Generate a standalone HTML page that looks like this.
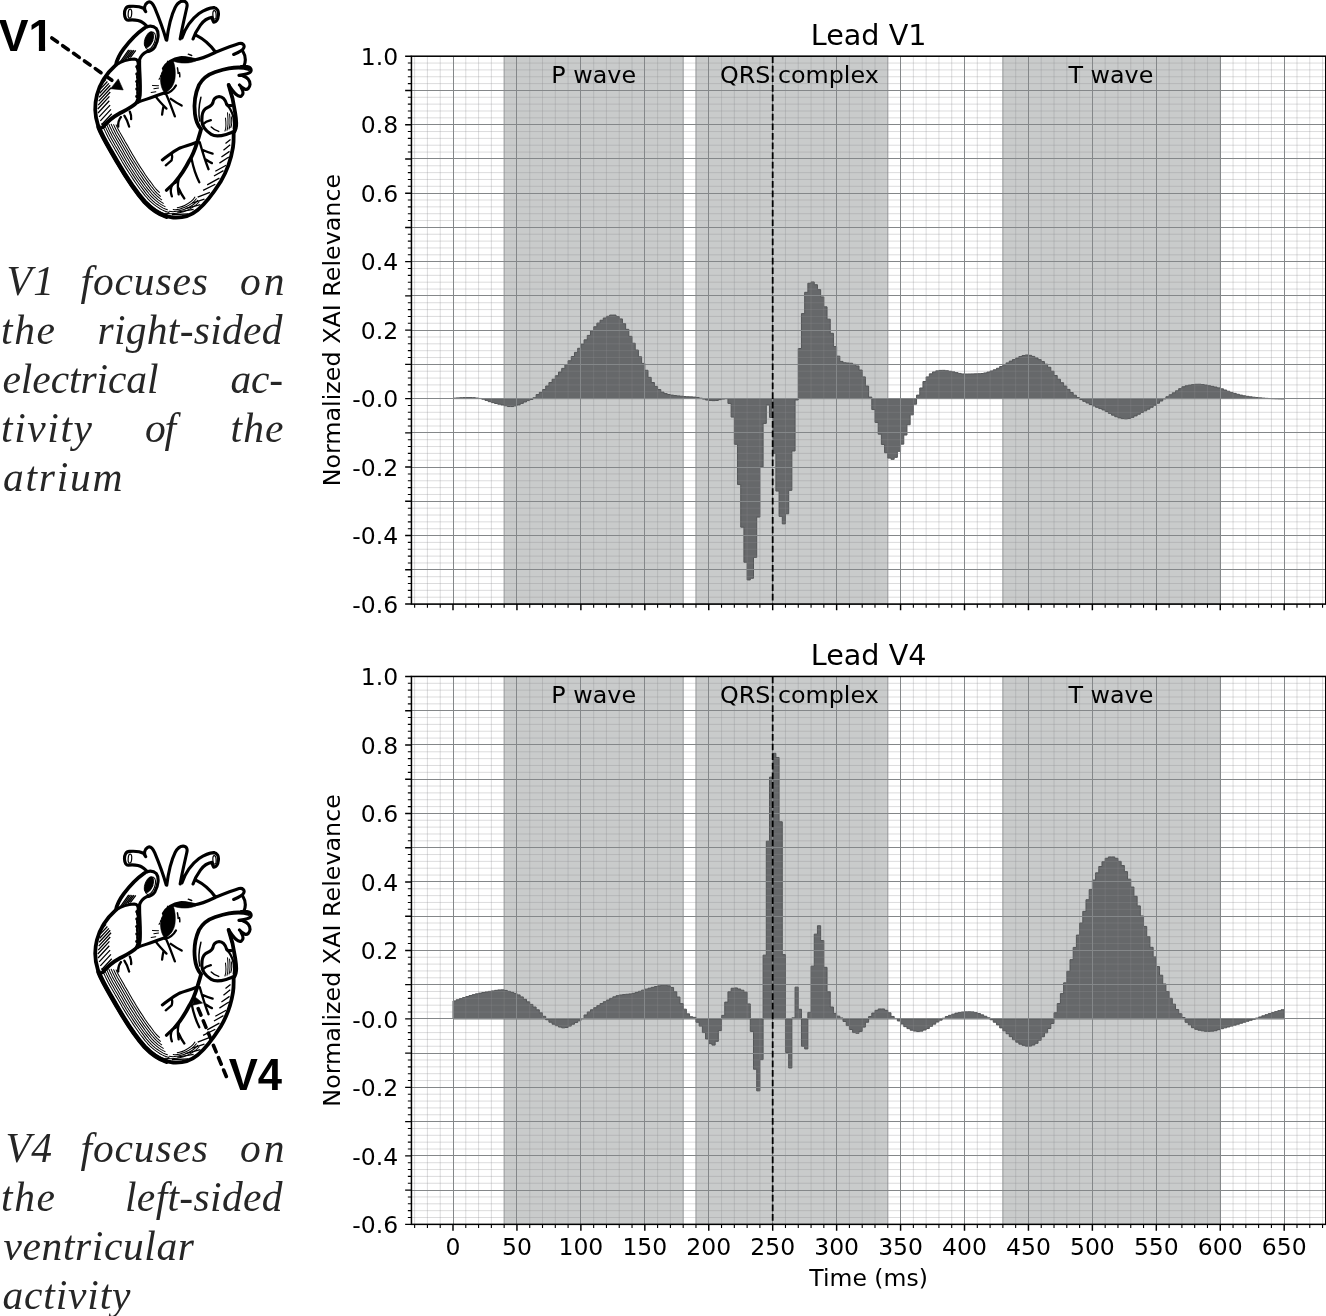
<!DOCTYPE html>
<html lang="en"><head><meta charset="utf-8"><title>ECG lead relevance</title>
<style>html,body{margin:0;padding:0;background:#fff}svg{display:block}</style></head>
<body><svg width="1326" height="1316" viewBox="0 0 1326 1316">
<rect width="1326" height="1316" fill="#fff"/>
<g font-family="'DejaVu Sans','Liberation Sans',sans-serif" fill="#000">
<rect x="504.15" y="56.20" width="179.03" height="547.85" fill="#c9cbcb" stroke="#a4a7a8" stroke-width="1"/>
<rect x="695.97" y="56.20" width="191.82" height="547.85" fill="#c9cbcb" stroke="#a4a7a8" stroke-width="1"/>
<rect x="1002.87" y="56.20" width="217.39" height="547.85" fill="#c9cbcb" stroke="#a4a7a8" stroke-width="1"/>
<path d="M453.00,398.61L453.00,398.13L456.20,398.13L456.20,397.88L459.39,397.88L459.39,397.70L462.59,397.70L462.59,397.59L465.79,397.59L465.79,397.58L468.98,397.58L468.98,397.58L472.18,397.58L472.18,397.65L475.38,397.65L475.38,398.05L478.58,398.05L478.58,398.46L481.77,398.46L481.77,399.18L484.97,399.18L484.97,400.39L488.17,400.39L488.17,401.67L491.36,401.67L491.36,402.65L494.56,402.65L494.56,403.48L497.76,403.48L497.76,404.23L500.95,404.23L500.95,404.96L504.15,404.96L504.15,405.73L507.35,405.73L507.35,406.54L510.54,406.54L510.54,406.57L513.74,406.57L513.74,405.89L516.94,405.89L516.94,404.90L520.14,404.90L520.14,403.39L523.33,403.39L523.33,401.96L526.53,401.96L526.53,400.61L529.73,400.61L529.73,399.47L532.92,399.47L532.92,397.74L536.12,397.74L536.12,394.57L539.32,394.57L539.32,392.34L542.51,392.34L542.51,389.53L545.71,389.53L545.71,385.98L548.91,385.98L548.91,382.55L552.10,382.55L552.10,379.23L555.30,379.23L555.30,375.73L558.50,375.73L558.50,372.03L561.70,372.03L561.70,368.39L564.89,368.39L564.89,364.75L568.09,364.75L568.09,360.74L571.29,360.74L571.29,356.52L574.48,356.52L574.48,352.39L577.68,352.39L577.68,348.29L580.88,348.29L580.88,344.11L584.07,344.11L584.07,339.83L587.27,339.83L587.27,335.41L590.47,335.41L590.47,330.86L593.66,330.86L593.66,326.77L596.86,326.77L596.86,323.09L600.06,323.09L600.06,320.24L603.26,320.24L603.26,317.97L606.45,317.97L606.45,316.34L609.65,316.34L609.65,315.07L612.85,315.07L612.85,315.07L616.04,315.07L616.04,316.48L619.24,316.48L619.24,318.91L622.44,318.91L622.44,323.65L625.63,323.65L625.63,329.34L628.83,329.34L628.83,336.34L632.03,336.34L632.03,343.24L635.22,343.24L635.22,350.03L638.42,350.03L638.42,356.76L641.62,356.76L641.62,363.42L644.82,363.42L644.82,370.29L648.01,370.29L648.01,377.36L651.21,377.36L651.21,382.53L654.41,382.53L654.41,386.38L657.60,386.38L657.60,389.50L660.80,389.50L660.80,392.12L664.00,392.12L664.00,393.61L667.19,393.61L667.19,394.52L670.39,394.52L670.39,395.11L673.59,395.11L673.59,395.56L676.78,395.56L676.78,395.93L679.98,395.93L679.98,396.24L683.18,396.24L683.18,396.50L686.38,396.50L686.38,396.69L689.57,396.69L689.57,396.86L692.77,396.86L692.77,397.08L695.97,397.08L695.97,397.48L699.16,397.48L699.16,398.21L702.36,398.21L702.36,399.06L705.56,399.06L705.56,400.04L708.75,400.04L708.75,400.45L711.95,400.45L711.95,400.63L715.15,400.63L715.15,400.50L718.34,400.50L718.34,399.66L721.54,399.66L721.54,399.02L724.74,399.02L724.74,398.61L727.94,398.61L727.94,403.40L731.13,403.40L731.13,417.10L734.33,417.10L734.33,444.32L737.53,444.32L737.53,484.55L740.72,484.55L740.72,527.18L743.92,527.18L743.92,562.28L747.12,562.28L747.12,579.94L750.31,579.94L750.31,578.27L753.51,578.27L753.51,557.35L756.71,557.35L756.71,517.08L759.90,517.08L759.90,466.92L763.10,466.92L763.10,423.40L766.30,423.40L766.30,404.98L769.50,404.98L769.50,417.44L772.69,417.44L772.69,453.39L775.89,453.39L775.89,491.06L779.09,491.06L779.09,516.33L782.28,516.33L782.28,523.86L785.48,523.86L785.48,513.79L788.68,513.79L788.68,490.37L791.87,490.37L791.87,450.99L795.07,450.99L795.07,399.98L798.27,399.98L798.27,348.51L801.46,348.51L801.46,313.59L804.66,313.59L804.66,292.32L807.86,292.32L807.86,283.22L811.06,283.22L811.06,281.98L814.25,281.98L814.25,284.72L817.45,284.72L817.45,289.58L820.65,289.58L820.65,296.91L823.84,296.91L823.84,306.84L827.04,306.84L827.04,319.17L830.24,319.17L830.24,333.31L833.43,333.31L833.43,346.56L836.63,346.56L836.63,356.15L839.83,356.15L839.83,361.42L843.02,361.42L843.02,362.76L846.22,362.76L846.22,363.00L849.42,363.00L849.42,363.24L852.62,363.24L852.62,364.37L855.81,364.37L855.81,365.97L859.01,365.97L859.01,370.05L862.21,370.05L862.21,376.90L865.40,376.90L865.40,386.01L868.60,386.01L868.60,397.10L871.80,397.10L871.80,409.56L874.99,409.56L874.99,422.44L878.19,422.44L878.19,434.15L881.39,434.15L881.39,444.49L884.58,444.49L884.58,452.71L887.78,452.71L887.78,458.12L890.98,458.12L890.98,459.35L894.18,459.35L894.18,457.36L897.37,457.36L897.37,451.34L900.57,451.34L900.57,444.15L903.77,444.15L903.77,435.04L906.96,435.04L906.96,424.73L910.16,424.73L910.16,414.87L913.36,414.87L913.36,404.22L916.55,404.22L916.55,395.11L919.75,395.11L919.75,387.99L922.95,387.99L922.95,381.49L926.14,381.49L926.14,376.90L929.34,376.90L929.34,373.85L932.54,373.85L932.54,371.90L935.74,371.90L935.74,370.87L938.93,370.87L938.93,370.42L942.13,370.42L942.13,370.35L945.33,370.35L945.33,370.71L948.52,370.71L948.52,371.28L951.72,371.28L951.72,371.86L954.92,371.86L954.92,372.63L958.11,372.63L958.11,373.42L961.31,373.42L961.31,373.94L964.51,373.94L964.51,374.02L967.70,374.02L967.70,373.98L970.90,373.98L970.90,373.92L974.10,373.92L974.10,373.82L977.30,373.82L977.30,373.69L980.49,373.69L980.49,373.50L983.69,373.50L983.69,372.93L986.89,372.93L986.89,372.04L990.08,372.04L990.08,370.94L993.28,370.94L993.28,369.78L996.48,369.78L996.48,368.28L999.67,368.28L999.67,366.53L1002.87,366.53L1002.87,364.78L1006.07,364.78L1006.07,362.90L1009.26,362.90L1009.26,361.10L1012.46,361.10L1012.46,359.58L1015.66,359.58L1015.66,358.05L1018.86,358.05L1018.86,356.59L1022.05,356.59L1022.05,355.48L1025.25,355.48L1025.25,354.99L1028.45,354.99L1028.45,355.34L1031.64,355.34L1031.64,356.41L1034.84,356.41L1034.84,357.93L1038.04,357.93L1038.04,359.64L1041.23,359.64L1041.23,361.58L1044.43,361.58L1044.43,364.18L1047.63,364.18L1047.63,367.25L1050.82,367.25L1050.82,371.24L1054.02,371.24L1054.02,375.52L1057.22,375.52L1057.22,379.24L1060.42,379.24L1060.42,382.71L1063.61,382.71L1063.61,386.06L1066.81,386.06L1066.81,389.40L1070.01,389.40L1070.01,392.53L1073.20,392.53L1073.20,395.22L1076.40,395.22L1076.40,397.57L1079.60,397.57L1079.60,399.57L1082.79,399.57L1082.79,401.35L1085.99,401.35L1085.99,402.98L1089.19,402.98L1089.19,404.51L1092.38,404.51L1092.38,405.96L1095.58,405.96L1095.58,407.29L1098.78,407.29L1098.78,408.58L1101.98,408.58L1101.98,409.93L1105.17,409.93L1105.17,411.54L1108.37,411.54L1108.37,413.36L1111.57,413.36L1111.57,415.16L1114.76,415.16L1114.76,416.74L1117.96,416.74L1117.96,417.89L1121.16,417.89L1121.16,418.58L1124.35,418.58L1124.35,418.87L1127.55,418.87L1127.55,418.43L1130.75,418.43L1130.75,417.37L1133.94,417.37L1133.94,415.91L1137.14,415.91L1137.14,414.21L1140.34,414.21L1140.34,412.48L1143.54,412.48L1143.54,410.87L1146.73,410.87L1146.73,409.15L1149.93,409.15L1149.93,407.27L1153.13,407.27L1153.13,405.30L1156.32,405.30L1156.32,403.24L1159.52,403.24L1159.52,401.02L1162.72,401.02L1162.72,398.82L1165.91,398.82L1165.91,396.76L1169.11,396.76L1169.11,394.76L1172.31,394.76L1172.31,392.82L1175.50,392.82L1175.50,390.84L1178.70,390.84L1178.70,388.65L1181.90,388.65L1181.90,386.77L1185.10,386.77L1185.10,385.76L1188.29,385.76L1188.29,385.11L1191.49,385.11L1191.49,384.60L1194.69,384.60L1194.69,384.29L1197.88,384.29L1197.88,384.24L1201.08,384.24L1201.08,384.53L1204.28,384.53L1204.28,385.06L1207.47,385.06L1207.47,385.70L1210.67,385.70L1210.67,386.33L1213.87,386.33L1213.87,387.05L1217.06,387.05L1217.06,387.88L1220.26,387.88L1220.26,388.83L1223.46,388.83L1223.46,390.00L1226.66,390.00L1226.66,391.24L1229.85,391.24L1229.85,392.40L1233.05,392.40L1233.05,393.37L1236.25,393.37L1236.25,394.28L1239.44,394.28L1239.44,395.10L1242.64,395.10L1242.64,395.78L1245.84,395.78L1245.84,396.33L1249.03,396.33L1249.03,396.80L1252.23,396.80L1252.23,397.21L1255.43,397.21L1255.43,397.56L1258.62,397.56L1258.62,397.86L1261.82,397.86L1261.82,398.12L1265.02,398.12L1265.02,398.35L1268.22,398.35L1268.22,398.54L1271.41,398.54L1271.41,398.67L1274.61,398.67L1274.61,398.78L1277.81,398.78L1277.81,398.87L1281.00,398.87L1281.00,398.93L1284.20,398.93L1284.20,398.61Z" fill="#66686a" stroke="#535557" stroke-width="1" stroke-linejoin="miter"/>
<path d="M414.64,56.20V604.05M427.42,56.20V604.05M440.21,56.20V604.05M465.79,56.20V604.05M478.58,56.20V604.05M491.36,56.20V604.05M504.15,56.20V604.05M529.73,56.20V604.05M542.51,56.20V604.05M555.30,56.20V604.05M568.09,56.20V604.05M593.66,56.20V604.05M606.45,56.20V604.05M619.24,56.20V604.05M632.03,56.20V604.05M657.60,56.20V604.05M670.39,56.20V604.05M683.18,56.20V604.05M695.97,56.20V604.05M721.54,56.20V604.05M734.33,56.20V604.05M747.12,56.20V604.05M759.90,56.20V604.05M785.48,56.20V604.05M798.27,56.20V604.05M811.06,56.20V604.05M823.84,56.20V604.05M849.42,56.20V604.05M862.21,56.20V604.05M874.99,56.20V604.05M887.78,56.20V604.05M913.36,56.20V604.05M926.14,56.20V604.05M938.93,56.20V604.05M951.72,56.20V604.05M977.30,56.20V604.05M990.08,56.20V604.05M1002.87,56.20V604.05M1015.66,56.20V604.05M1041.23,56.20V604.05M1054.02,56.20V604.05M1066.81,56.20V604.05M1079.60,56.20V604.05M1105.17,56.20V604.05M1117.96,56.20V604.05M1130.75,56.20V604.05M1143.54,56.20V604.05M1169.11,56.20V604.05M1181.90,56.20V604.05M1194.69,56.20V604.05M1207.47,56.20V604.05M1233.05,56.20V604.05M1245.84,56.20V604.05M1258.62,56.20V604.05M1271.41,56.20V604.05M1296.99,56.20V604.05M1309.78,56.20V604.05M1322.56,56.20V604.05M411.44,597.20H1325.76M411.44,590.35H1325.76M411.44,583.51H1325.76M411.44,576.66H1325.76M411.44,562.96H1325.76M411.44,556.11H1325.76M411.44,549.26H1325.76M411.44,542.42H1325.76M411.44,528.72H1325.76M411.44,521.87H1325.76M411.44,515.02H1325.76M411.44,508.18H1325.76M411.44,494.48H1325.76M411.44,487.63H1325.76M411.44,480.78H1325.76M411.44,473.94H1325.76M411.44,460.24H1325.76M411.44,453.39H1325.76M411.44,446.54H1325.76M411.44,439.69H1325.76M411.44,426.00H1325.76M411.44,419.15H1325.76M411.44,412.30H1325.76M411.44,405.45H1325.76M411.44,391.76H1325.76M411.44,384.91H1325.76M411.44,378.06H1325.76M411.44,371.21H1325.76M411.44,357.52H1325.76M411.44,350.67H1325.76M411.44,343.82H1325.76M411.44,336.97H1325.76M411.44,323.28H1325.76M411.44,316.43H1325.76M411.44,309.58H1325.76M411.44,302.73H1325.76M411.44,289.04H1325.76M411.44,282.19H1325.76M411.44,275.34H1325.76M411.44,268.49H1325.76M411.44,254.80H1325.76M411.44,247.95H1325.76M411.44,241.10H1325.76M411.44,234.25H1325.76M411.44,220.55H1325.76M411.44,213.71H1325.76M411.44,206.86H1325.76M411.44,200.01H1325.76M411.44,186.31H1325.76M411.44,179.47H1325.76M411.44,172.62H1325.76M411.44,165.77H1325.76M411.44,152.07H1325.76M411.44,145.23H1325.76M411.44,138.38H1325.76M411.44,131.53H1325.76M411.44,117.83H1325.76M411.44,110.99H1325.76M411.44,104.14H1325.76M411.44,97.29H1325.76M411.44,83.59H1325.76M411.44,76.74H1325.76M411.44,69.90H1325.76M411.44,63.05H1325.76" stroke="#8a8c90" stroke-opacity="0.30" stroke-width="1" fill="none"/>
<path d="M453.00,56.20V604.05M516.94,56.20V604.05M580.88,56.20V604.05M644.82,56.20V604.05M708.75,56.20V604.05M772.69,56.20V604.05M836.63,56.20V604.05M900.57,56.20V604.05M964.51,56.20V604.05M1028.45,56.20V604.05M1092.38,56.20V604.05M1156.32,56.20V604.05M1220.26,56.20V604.05M1284.20,56.20V604.05M411.44,604.05H1325.76M411.44,569.81H1325.76M411.44,535.57H1325.76M411.44,501.33H1325.76M411.44,467.09H1325.76M411.44,432.85H1325.76M411.44,398.61H1325.76M411.44,364.37H1325.76M411.44,330.12H1325.76M411.44,295.88H1325.76M411.44,261.64H1325.76M411.44,227.40H1325.76M411.44,193.16H1325.76M411.44,158.92H1325.76M411.44,124.68H1325.76M411.44,90.44H1325.76M411.44,56.20H1325.76" stroke="#848789" stroke-width="1" fill="none" shape-rendering="crispEdges"/>
<line x1="772.69" y1="56.20" x2="772.69" y2="604.05" stroke="#000" stroke-width="1.8" stroke-dasharray="6.7,2.9"/>
<path d="M411.44,604.05h-6.3M411.44,569.81h-6.3M411.44,535.57h-6.3M411.44,501.33h-6.3M411.44,467.09h-6.3M411.44,432.85h-6.3M411.44,398.61h-6.3M411.44,364.37h-6.3M411.44,330.12h-6.3M411.44,295.88h-6.3M411.44,261.64h-6.3M411.44,227.40h-6.3M411.44,193.16h-6.3M411.44,158.92h-6.3M411.44,124.68h-6.3M411.44,90.44h-6.3M411.44,56.20h-6.3M453.00,604.05v6.3M516.94,604.05v6.3M580.88,604.05v6.3M644.82,604.05v6.3M708.75,604.05v6.3M772.69,604.05v6.3M836.63,604.05v6.3M900.57,604.05v6.3M964.51,604.05v6.3M1028.45,604.05v6.3M1092.38,604.05v6.3M1156.32,604.05v6.3M1220.26,604.05v6.3M1284.20,604.05v6.3" stroke="#000" stroke-width="1.45" fill="none"/>
<path d="M411.44,597.20h-3.6M411.44,590.35h-3.6M411.44,583.51h-3.6M411.44,576.66h-3.6M411.44,562.96h-3.6M411.44,556.11h-3.6M411.44,549.26h-3.6M411.44,542.42h-3.6M411.44,528.72h-3.6M411.44,521.87h-3.6M411.44,515.02h-3.6M411.44,508.18h-3.6M411.44,494.48h-3.6M411.44,487.63h-3.6M411.44,480.78h-3.6M411.44,473.94h-3.6M411.44,460.24h-3.6M411.44,453.39h-3.6M411.44,446.54h-3.6M411.44,439.69h-3.6M411.44,426.00h-3.6M411.44,419.15h-3.6M411.44,412.30h-3.6M411.44,405.45h-3.6M411.44,391.76h-3.6M411.44,384.91h-3.6M411.44,378.06h-3.6M411.44,371.21h-3.6M411.44,357.52h-3.6M411.44,350.67h-3.6M411.44,343.82h-3.6M411.44,336.97h-3.6M411.44,323.28h-3.6M411.44,316.43h-3.6M411.44,309.58h-3.6M411.44,302.73h-3.6M411.44,289.04h-3.6M411.44,282.19h-3.6M411.44,275.34h-3.6M411.44,268.49h-3.6M411.44,254.80h-3.6M411.44,247.95h-3.6M411.44,241.10h-3.6M411.44,234.25h-3.6M411.44,220.55h-3.6M411.44,213.71h-3.6M411.44,206.86h-3.6M411.44,200.01h-3.6M411.44,186.31h-3.6M411.44,179.47h-3.6M411.44,172.62h-3.6M411.44,165.77h-3.6M411.44,152.07h-3.6M411.44,145.23h-3.6M411.44,138.38h-3.6M411.44,131.53h-3.6M411.44,117.83h-3.6M411.44,110.99h-3.6M411.44,104.14h-3.6M411.44,97.29h-3.6M411.44,83.59h-3.6M411.44,76.74h-3.6M411.44,69.90h-3.6M411.44,63.05h-3.6M414.64,604.05v3.6M427.42,604.05v3.6M440.21,604.05v3.6M465.79,604.05v3.6M478.58,604.05v3.6M491.36,604.05v3.6M504.15,604.05v3.6M529.73,604.05v3.6M542.51,604.05v3.6M555.30,604.05v3.6M568.09,604.05v3.6M593.66,604.05v3.6M606.45,604.05v3.6M619.24,604.05v3.6M632.03,604.05v3.6M657.60,604.05v3.6M670.39,604.05v3.6M683.18,604.05v3.6M695.97,604.05v3.6M721.54,604.05v3.6M734.33,604.05v3.6M747.12,604.05v3.6M759.90,604.05v3.6M785.48,604.05v3.6M798.27,604.05v3.6M811.06,604.05v3.6M823.84,604.05v3.6M849.42,604.05v3.6M862.21,604.05v3.6M874.99,604.05v3.6M887.78,604.05v3.6M913.36,604.05v3.6M926.14,604.05v3.6M938.93,604.05v3.6M951.72,604.05v3.6M977.30,604.05v3.6M990.08,604.05v3.6M1002.87,604.05v3.6M1015.66,604.05v3.6M1041.23,604.05v3.6M1054.02,604.05v3.6M1066.81,604.05v3.6M1079.60,604.05v3.6M1105.17,604.05v3.6M1117.96,604.05v3.6M1130.75,604.05v3.6M1143.54,604.05v3.6M1169.11,604.05v3.6M1181.90,604.05v3.6M1194.69,604.05v3.6M1207.47,604.05v3.6M1233.05,604.05v3.6M1245.84,604.05v3.6M1258.62,604.05v3.6M1271.41,604.05v3.6M1296.99,604.05v3.6M1309.78,604.05v3.6M1322.56,604.05v3.6" stroke="#000" stroke-width="1.1" fill="none"/>
<rect x="411.44" y="56.20" width="914.32" height="547.85" fill="none" stroke="#000" stroke-width="1.5"/>
<text x="398.2" y="612.80" text-anchor="end" font-size="23.5">-0.6</text>
<text x="398.2" y="544.32" text-anchor="end" font-size="23.5">-0.4</text>
<text x="398.2" y="475.84" text-anchor="end" font-size="23.5">-0.2</text>
<text x="398.2" y="407.36" text-anchor="end" font-size="23.5">-0.0</text>
<text x="398.2" y="338.87" text-anchor="end" font-size="23.5">0.2</text>
<text x="398.2" y="270.39" text-anchor="end" font-size="23.5">0.4</text>
<text x="398.2" y="201.91" text-anchor="end" font-size="23.5">0.6</text>
<text x="398.2" y="133.43" text-anchor="end" font-size="23.5">0.8</text>
<text x="398.2" y="64.95" text-anchor="end" font-size="23.5">1.0</text>
<text transform="translate(339.5,330.12) rotate(-90)" text-anchor="middle" font-size="23.8">Normalized XAI Relevance</text>
<text x="868.60" y="44.80" text-anchor="middle" font-size="28.65">Lead V1</text>
<text x="593.7" y="82.90" text-anchor="middle" font-size="23.8">P wave</text>
<text x="799.4" y="82.90" text-anchor="middle" font-size="23.8">QRS complex</text>
<text x="1110.9" y="82.90" text-anchor="middle" font-size="23.8">T wave</text>
<rect x="504.15" y="676.45" width="179.03" height="547.90" fill="#c9cbcb" stroke="#a4a7a8" stroke-width="1"/>
<rect x="695.97" y="676.45" width="191.82" height="547.90" fill="#c9cbcb" stroke="#a4a7a8" stroke-width="1"/>
<rect x="1002.87" y="676.45" width="217.39" height="547.90" fill="#c9cbcb" stroke="#a4a7a8" stroke-width="1"/>
<path d="M453.00,1018.89L453.00,1000.92L456.20,1000.92L456.20,999.74L459.39,999.74L459.39,998.61L462.59,998.61L462.59,997.55L465.79,997.55L465.79,996.54L468.98,996.54L468.98,995.56L472.18,995.56L472.18,994.64L475.38,994.64L475.38,993.81L478.58,993.81L478.58,993.10L481.77,993.10L481.77,992.48L484.97,992.48L484.97,991.91L488.17,991.91L488.17,991.39L491.36,991.39L491.36,990.89L494.56,990.89L494.56,990.34L497.76,990.34L497.76,989.92L500.95,989.92L500.95,989.85L504.15,989.85L504.15,990.43L507.35,990.43L507.35,991.36L510.54,991.36L510.54,992.30L513.74,992.30L513.74,993.42L516.94,993.42L516.94,994.90L520.14,994.90L520.14,996.92L523.33,996.92L523.33,999.31L526.53,999.31L526.53,1001.87L529.73,1001.87L529.73,1004.40L532.92,1004.40L532.92,1007.03L536.12,1007.03L536.12,1009.82L539.32,1009.82L539.32,1012.83L542.51,1012.83L542.51,1016.32L545.71,1016.32L545.71,1019.72L548.91,1019.72L548.91,1022.21L552.10,1022.21L552.10,1024.20L555.30,1024.20L555.30,1025.70L558.50,1025.70L558.50,1027.05L561.70,1027.05L561.70,1027.84L564.89,1027.84L564.89,1027.53L568.09,1027.53L568.09,1026.09L571.29,1026.09L571.29,1024.21L574.48,1024.21L574.48,1022.54L577.68,1022.54L577.68,1020.83L580.88,1020.83L580.88,1018.62L584.07,1018.62L584.07,1014.96L587.27,1014.96L587.27,1011.98L590.47,1011.98L590.47,1009.79L593.66,1009.79L593.66,1007.69L596.86,1007.69L596.86,1005.59L600.06,1005.59L600.06,1003.58L603.26,1003.58L603.26,1001.73L606.45,1001.73L606.45,1000.04L609.65,1000.04L609.65,998.36L612.85,998.36L612.85,996.83L616.04,996.83L616.04,995.65L619.24,995.65L619.24,994.98L622.44,994.98L622.44,994.59L625.63,994.59L625.63,994.28L628.83,994.28L628.83,993.91L632.03,993.91L632.03,993.30L635.22,993.30L635.22,992.35L638.42,992.35L638.42,991.30L641.62,991.30L641.62,990.14L644.82,990.14L644.82,989.13L648.01,989.13L648.01,988.20L651.21,988.20L651.21,987.34L654.41,987.34L654.41,986.57L657.60,986.57L657.60,985.86L660.80,985.86L660.80,985.20L664.00,985.20L664.00,985.18L667.19,985.18L667.19,985.85L670.39,985.85L670.39,987.44L673.59,987.44L673.59,991.75L676.78,991.75L676.78,997.03L679.98,997.03L679.98,1003.63L683.18,1003.63L683.18,1009.17L686.38,1009.17L686.38,1013.84L689.57,1013.84L689.57,1016.72L692.77,1016.72L692.77,1017.35L695.97,1017.35L695.97,1022.24L699.16,1022.24L699.16,1026.08L702.36,1026.08L702.36,1032.59L705.56,1032.59L705.56,1039.02L708.75,1039.02L708.75,1043.61L711.95,1043.61L711.95,1045.12L715.15,1045.12L715.15,1041.32L718.34,1041.32L718.34,1030.63L721.54,1030.63L721.54,1015.39L724.74,1015.39L724.74,1002.11L727.94,1002.11L727.94,991.73L731.13,991.73L731.13,988.24L734.33,988.24L734.33,987.93L737.53,987.93L737.53,988.99L740.72,988.99L740.72,990.23L743.92,990.23L743.92,992.18L747.12,992.18L747.12,1003.92L750.31,1003.92L750.31,1031.39L753.51,1031.39L753.51,1069.23L756.71,1069.23L756.71,1090.87L759.90,1090.87L759.90,1059.64L763.10,1059.64L763.10,955.13L766.30,955.13L766.30,841.16L769.50,841.16L769.50,777.13L772.69,777.13L772.69,753.29L775.89,753.29L775.89,757.47L779.09,757.47L779.09,821.78L782.28,821.78L782.28,954.61L785.48,954.61L785.48,1052.45L788.68,1052.45L788.68,1067.99L791.87,1067.99L791.87,1017.86L795.07,1017.86L795.07,987.14L798.27,987.14L798.27,1009.30L801.46,1009.30L801.46,1046.28L804.66,1046.28L804.66,1048.95L807.86,1048.95L807.86,1012.38L811.06,1012.38L811.06,966.15L814.25,966.15L814.25,934.13L817.45,934.13L817.45,925.74L820.65,925.74L820.65,940.54L823.84,940.54L823.84,967.32L827.04,967.32L827.04,991.73L830.24,991.73L830.24,1007.00L833.43,1007.00L833.43,1013.41L836.63,1013.41L836.63,1016.15L839.83,1016.15L839.83,1017.96L843.02,1017.96L843.02,1021.49L846.22,1021.49L846.22,1025.60L849.42,1025.60L849.42,1029.50L852.62,1029.50L852.62,1032.59L855.81,1032.59L855.81,1033.27L859.01,1033.27L859.01,1031.39L862.21,1031.39L862.21,1027.11L865.40,1027.11L865.40,1022.24L868.60,1022.24L868.60,1016.49L871.80,1016.49L871.80,1013.07L874.99,1013.07L874.99,1010.33L878.19,1010.33L878.19,1008.96L881.39,1008.96L881.39,1008.96L884.58,1008.96L884.58,1010.33L887.78,1010.33L887.78,1012.72L890.98,1012.72L890.98,1016.44L894.18,1016.44L894.18,1018.48L897.37,1018.48L897.37,1020.97L900.57,1020.97L900.57,1024.06L903.77,1024.06L903.77,1026.64L906.96,1026.64L906.96,1028.62L910.16,1028.62L910.16,1030.19L913.36,1030.19L913.36,1031.08L916.55,1031.08L916.55,1031.55L919.75,1031.55L919.75,1031.14L922.95,1031.14L922.95,1030.01L926.14,1030.01L926.14,1028.55L929.34,1028.55L929.34,1026.31L932.54,1026.31L932.54,1024.14L935.74,1024.14L935.74,1022.04L938.93,1022.04L938.93,1020.14L942.13,1020.14L942.13,1018.24L945.33,1018.24L945.33,1016.48L948.52,1016.48L948.52,1015.32L951.72,1015.32L951.72,1014.20L954.92,1014.20L954.92,1013.11L958.11,1013.11L958.11,1012.44L961.31,1012.44L961.31,1012.01L964.51,1012.01L964.51,1011.85L967.70,1011.85L967.70,1011.78L970.90,1011.78L970.90,1011.89L974.10,1011.89L974.10,1012.62L977.30,1012.62L977.30,1013.57L980.49,1013.57L980.49,1014.86L983.69,1014.86L983.69,1016.27L986.89,1016.27L986.89,1017.82L990.08,1017.82L990.08,1019.76L993.28,1019.76L993.28,1022.23L996.48,1022.23L996.48,1024.92L999.67,1024.92L999.67,1027.89L1002.87,1027.89L1002.87,1030.82L1006.07,1030.82L1006.07,1033.73L1009.26,1033.73L1009.26,1036.70L1012.46,1036.70L1012.46,1039.73L1015.66,1039.73L1015.66,1042.15L1018.86,1042.15L1018.86,1044.13L1022.05,1044.13L1022.05,1045.34L1025.25,1045.34L1025.25,1046.15L1028.45,1046.15L1028.45,1046.11L1031.64,1046.11L1031.64,1045.05L1034.84,1045.05L1034.84,1043.32L1038.04,1043.32L1038.04,1040.23L1041.23,1040.23L1041.23,1036.75L1044.43,1036.75L1044.43,1032.82L1047.63,1032.82L1047.63,1028.48L1050.82,1028.48L1050.82,1023.54L1054.02,1023.54L1054.02,1012.72L1057.22,1012.72L1057.22,1003.58L1060.42,1003.58L1060.42,993.62L1063.61,993.62L1063.61,982.83L1066.81,982.83L1066.81,971.29L1070.01,971.29L1070.01,959.65L1073.20,959.65L1073.20,947.42L1076.40,947.42L1076.40,935.09L1079.60,935.09L1079.60,923.00L1082.79,923.00L1082.79,911.36L1085.99,911.36L1085.99,899.72L1089.19,899.72L1089.19,889.62L1092.38,889.62L1092.38,880.03L1095.58,880.03L1095.58,872.84L1098.78,872.84L1098.78,866.50L1101.98,866.50L1101.98,861.71L1105.17,861.71L1105.17,858.28L1108.37,858.28L1108.37,856.91L1111.57,856.91L1111.57,856.91L1114.76,856.91L1114.76,858.28L1117.96,858.28L1117.96,861.37L1121.16,861.37L1121.16,865.54L1124.35,865.54L1124.35,871.64L1127.55,871.64L1127.55,879.17L1130.75,879.17L1130.75,887.05L1133.94,887.05L1133.94,896.29L1137.14,896.29L1137.14,905.88L1140.34,905.88L1140.34,915.95L1143.54,915.95L1143.54,926.43L1146.73,926.43L1146.73,936.70L1149.93,936.70L1149.93,947.32L1153.13,947.32L1153.13,956.91L1156.32,956.91L1156.32,966.56L1159.52,966.56L1159.52,975.23L1162.72,975.23L1162.72,983.96L1165.91,983.96L1165.91,991.49L1169.11,991.49L1169.11,998.34L1172.31,998.34L1172.31,1004.16L1175.50,1004.16L1175.50,1009.47L1178.70,1009.47L1178.70,1013.75L1181.90,1013.75L1181.90,1017.52L1185.10,1017.52L1185.10,1022.31L1188.29,1022.31L1188.29,1024.85L1191.49,1024.85L1191.49,1027.69L1194.69,1027.69L1194.69,1029.33L1197.88,1029.33L1197.88,1030.21L1201.08,1030.21L1201.08,1030.83L1204.28,1030.83L1204.28,1031.31L1207.47,1031.31L1207.47,1031.36L1210.67,1031.36L1210.67,1031.16L1213.87,1031.16L1213.87,1030.72L1217.06,1030.72L1217.06,1029.67L1220.26,1029.67L1220.26,1028.71L1223.46,1028.71L1223.46,1027.84L1226.66,1027.84L1226.66,1026.97L1229.85,1026.97L1229.85,1026.09L1233.05,1026.09L1233.05,1025.17L1236.25,1025.17L1236.25,1024.22L1239.44,1024.22L1239.44,1023.25L1242.64,1023.25L1242.64,1022.26L1245.84,1022.26L1245.84,1021.26L1249.03,1021.26L1249.03,1020.26L1252.23,1020.26L1252.23,1019.21L1255.43,1019.21L1255.43,1018.09L1258.62,1018.09L1258.62,1016.95L1261.82,1016.95L1261.82,1015.82L1265.02,1015.82L1265.02,1014.70L1268.22,1014.70L1268.22,1013.62L1271.41,1013.62L1271.41,1012.59L1274.61,1012.59L1274.61,1011.61L1277.81,1011.61L1277.81,1010.65L1281.00,1010.65L1281.00,1009.74L1284.20,1009.74L1284.20,1018.89Z" fill="#66686a" stroke="#535557" stroke-width="1" stroke-linejoin="miter"/>
<path d="M414.64,676.45V1224.35M427.42,676.45V1224.35M440.21,676.45V1224.35M465.79,676.45V1224.35M478.58,676.45V1224.35M491.36,676.45V1224.35M504.15,676.45V1224.35M529.73,676.45V1224.35M542.51,676.45V1224.35M555.30,676.45V1224.35M568.09,676.45V1224.35M593.66,676.45V1224.35M606.45,676.45V1224.35M619.24,676.45V1224.35M632.03,676.45V1224.35M657.60,676.45V1224.35M670.39,676.45V1224.35M683.18,676.45V1224.35M695.97,676.45V1224.35M721.54,676.45V1224.35M734.33,676.45V1224.35M747.12,676.45V1224.35M759.90,676.45V1224.35M785.48,676.45V1224.35M798.27,676.45V1224.35M811.06,676.45V1224.35M823.84,676.45V1224.35M849.42,676.45V1224.35M862.21,676.45V1224.35M874.99,676.45V1224.35M887.78,676.45V1224.35M913.36,676.45V1224.35M926.14,676.45V1224.35M938.93,676.45V1224.35M951.72,676.45V1224.35M977.30,676.45V1224.35M990.08,676.45V1224.35M1002.87,676.45V1224.35M1015.66,676.45V1224.35M1041.23,676.45V1224.35M1054.02,676.45V1224.35M1066.81,676.45V1224.35M1079.60,676.45V1224.35M1105.17,676.45V1224.35M1117.96,676.45V1224.35M1130.75,676.45V1224.35M1143.54,676.45V1224.35M1169.11,676.45V1224.35M1181.90,676.45V1224.35M1194.69,676.45V1224.35M1207.47,676.45V1224.35M1233.05,676.45V1224.35M1245.84,676.45V1224.35M1258.62,676.45V1224.35M1271.41,676.45V1224.35M1296.99,676.45V1224.35M1309.78,676.45V1224.35M1322.56,676.45V1224.35M411.44,1217.50H1325.76M411.44,1210.65H1325.76M411.44,1203.80H1325.76M411.44,1196.95H1325.76M411.44,1183.26H1325.76M411.44,1176.41H1325.76M411.44,1169.56H1325.76M411.44,1162.71H1325.76M411.44,1149.01H1325.76M411.44,1142.16H1325.76M411.44,1135.32H1325.76M411.44,1128.47H1325.76M411.44,1114.77H1325.76M411.44,1107.92H1325.76M411.44,1101.07H1325.76M411.44,1094.22H1325.76M411.44,1080.53H1325.76M411.44,1073.68H1325.76M411.44,1066.83H1325.76M411.44,1059.98H1325.76M411.44,1046.28H1325.76M411.44,1039.43H1325.76M411.44,1032.59H1325.76M411.44,1025.74H1325.76M411.44,1012.04H1325.76M411.44,1005.19H1325.76M411.44,998.34H1325.76M411.44,991.49H1325.76M411.44,977.79H1325.76M411.44,970.95H1325.76M411.44,964.10H1325.76M411.44,957.25H1325.76M411.44,943.55H1325.76M411.44,936.70H1325.76M411.44,929.85H1325.76M411.44,923.00H1325.76M411.44,909.31H1325.76M411.44,902.46H1325.76M411.44,895.61H1325.76M411.44,888.76H1325.76M411.44,875.06H1325.76M411.44,868.22H1325.76M411.44,861.37H1325.76M411.44,854.52H1325.76M411.44,840.82H1325.76M411.44,833.97H1325.76M411.44,827.12H1325.76M411.44,820.27H1325.76M411.44,806.58H1325.76M411.44,799.73H1325.76M411.44,792.88H1325.76M411.44,786.03H1325.76M411.44,772.33H1325.76M411.44,765.48H1325.76M411.44,758.63H1325.76M411.44,751.79H1325.76M411.44,738.09H1325.76M411.44,731.24H1325.76M411.44,724.39H1325.76M411.44,717.54H1325.76M411.44,703.85H1325.76M411.44,697.00H1325.76M411.44,690.15H1325.76M411.44,683.30H1325.76" stroke="#8a8c90" stroke-opacity="0.30" stroke-width="1" fill="none"/>
<path d="M453.00,676.45V1224.35M516.94,676.45V1224.35M580.88,676.45V1224.35M644.82,676.45V1224.35M708.75,676.45V1224.35M772.69,676.45V1224.35M836.63,676.45V1224.35M900.57,676.45V1224.35M964.51,676.45V1224.35M1028.45,676.45V1224.35M1092.38,676.45V1224.35M1156.32,676.45V1224.35M1220.26,676.45V1224.35M1284.20,676.45V1224.35M411.44,1224.35H1325.76M411.44,1190.11H1325.76M411.44,1155.86H1325.76M411.44,1121.62H1325.76M411.44,1087.38H1325.76M411.44,1053.13H1325.76M411.44,1018.89H1325.76M411.44,984.64H1325.76M411.44,950.40H1325.76M411.44,916.16H1325.76M411.44,881.91H1325.76M411.44,847.67H1325.76M411.44,813.42H1325.76M411.44,779.18H1325.76M411.44,744.94H1325.76M411.44,710.69H1325.76M411.44,676.45H1325.76" stroke="#848789" stroke-width="1" fill="none" shape-rendering="crispEdges"/>
<line x1="772.69" y1="676.45" x2="772.69" y2="1224.35" stroke="#000" stroke-width="1.8" stroke-dasharray="6.7,2.9"/>
<path d="M411.44,1224.35h-6.3M411.44,1190.11h-6.3M411.44,1155.86h-6.3M411.44,1121.62h-6.3M411.44,1087.38h-6.3M411.44,1053.13h-6.3M411.44,1018.89h-6.3M411.44,984.64h-6.3M411.44,950.40h-6.3M411.44,916.16h-6.3M411.44,881.91h-6.3M411.44,847.67h-6.3M411.44,813.42h-6.3M411.44,779.18h-6.3M411.44,744.94h-6.3M411.44,710.69h-6.3M411.44,676.45h-6.3M453.00,1224.35v6.3M516.94,1224.35v6.3M580.88,1224.35v6.3M644.82,1224.35v6.3M708.75,1224.35v6.3M772.69,1224.35v6.3M836.63,1224.35v6.3M900.57,1224.35v6.3M964.51,1224.35v6.3M1028.45,1224.35v6.3M1092.38,1224.35v6.3M1156.32,1224.35v6.3M1220.26,1224.35v6.3M1284.20,1224.35v6.3" stroke="#000" stroke-width="1.45" fill="none"/>
<path d="M411.44,1217.50h-3.6M411.44,1210.65h-3.6M411.44,1203.80h-3.6M411.44,1196.95h-3.6M411.44,1183.26h-3.6M411.44,1176.41h-3.6M411.44,1169.56h-3.6M411.44,1162.71h-3.6M411.44,1149.01h-3.6M411.44,1142.16h-3.6M411.44,1135.32h-3.6M411.44,1128.47h-3.6M411.44,1114.77h-3.6M411.44,1107.92h-3.6M411.44,1101.07h-3.6M411.44,1094.22h-3.6M411.44,1080.53h-3.6M411.44,1073.68h-3.6M411.44,1066.83h-3.6M411.44,1059.98h-3.6M411.44,1046.28h-3.6M411.44,1039.43h-3.6M411.44,1032.59h-3.6M411.44,1025.74h-3.6M411.44,1012.04h-3.6M411.44,1005.19h-3.6M411.44,998.34h-3.6M411.44,991.49h-3.6M411.44,977.79h-3.6M411.44,970.95h-3.6M411.44,964.10h-3.6M411.44,957.25h-3.6M411.44,943.55h-3.6M411.44,936.70h-3.6M411.44,929.85h-3.6M411.44,923.00h-3.6M411.44,909.31h-3.6M411.44,902.46h-3.6M411.44,895.61h-3.6M411.44,888.76h-3.6M411.44,875.06h-3.6M411.44,868.22h-3.6M411.44,861.37h-3.6M411.44,854.52h-3.6M411.44,840.82h-3.6M411.44,833.97h-3.6M411.44,827.12h-3.6M411.44,820.27h-3.6M411.44,806.58h-3.6M411.44,799.73h-3.6M411.44,792.88h-3.6M411.44,786.03h-3.6M411.44,772.33h-3.6M411.44,765.48h-3.6M411.44,758.63h-3.6M411.44,751.79h-3.6M411.44,738.09h-3.6M411.44,731.24h-3.6M411.44,724.39h-3.6M411.44,717.54h-3.6M411.44,703.85h-3.6M411.44,697.00h-3.6M411.44,690.15h-3.6M411.44,683.30h-3.6M414.64,1224.35v3.6M427.42,1224.35v3.6M440.21,1224.35v3.6M465.79,1224.35v3.6M478.58,1224.35v3.6M491.36,1224.35v3.6M504.15,1224.35v3.6M529.73,1224.35v3.6M542.51,1224.35v3.6M555.30,1224.35v3.6M568.09,1224.35v3.6M593.66,1224.35v3.6M606.45,1224.35v3.6M619.24,1224.35v3.6M632.03,1224.35v3.6M657.60,1224.35v3.6M670.39,1224.35v3.6M683.18,1224.35v3.6M695.97,1224.35v3.6M721.54,1224.35v3.6M734.33,1224.35v3.6M747.12,1224.35v3.6M759.90,1224.35v3.6M785.48,1224.35v3.6M798.27,1224.35v3.6M811.06,1224.35v3.6M823.84,1224.35v3.6M849.42,1224.35v3.6M862.21,1224.35v3.6M874.99,1224.35v3.6M887.78,1224.35v3.6M913.36,1224.35v3.6M926.14,1224.35v3.6M938.93,1224.35v3.6M951.72,1224.35v3.6M977.30,1224.35v3.6M990.08,1224.35v3.6M1002.87,1224.35v3.6M1015.66,1224.35v3.6M1041.23,1224.35v3.6M1054.02,1224.35v3.6M1066.81,1224.35v3.6M1079.60,1224.35v3.6M1105.17,1224.35v3.6M1117.96,1224.35v3.6M1130.75,1224.35v3.6M1143.54,1224.35v3.6M1169.11,1224.35v3.6M1181.90,1224.35v3.6M1194.69,1224.35v3.6M1207.47,1224.35v3.6M1233.05,1224.35v3.6M1245.84,1224.35v3.6M1258.62,1224.35v3.6M1271.41,1224.35v3.6M1296.99,1224.35v3.6M1309.78,1224.35v3.6M1322.56,1224.35v3.6" stroke="#000" stroke-width="1.1" fill="none"/>
<rect x="411.44" y="676.45" width="914.32" height="547.90" fill="none" stroke="#000" stroke-width="1.5"/>
<text x="398.2" y="1233.10" text-anchor="end" font-size="23.5">-0.6</text>
<text x="398.2" y="1164.61" text-anchor="end" font-size="23.5">-0.4</text>
<text x="398.2" y="1096.12" text-anchor="end" font-size="23.5">-0.2</text>
<text x="398.2" y="1027.64" text-anchor="end" font-size="23.5">-0.0</text>
<text x="398.2" y="959.15" text-anchor="end" font-size="23.5">0.2</text>
<text x="398.2" y="890.66" text-anchor="end" font-size="23.5">0.4</text>
<text x="398.2" y="822.17" text-anchor="end" font-size="23.5">0.6</text>
<text x="398.2" y="753.69" text-anchor="end" font-size="23.5">0.8</text>
<text x="398.2" y="685.20" text-anchor="end" font-size="23.5">1.0</text>
<text transform="translate(339.5,950.40) rotate(-90)" text-anchor="middle" font-size="23.8">Normalized XAI Relevance</text>
<text x="868.60" y="665.05" text-anchor="middle" font-size="28.65">Lead V4</text>
<text x="593.7" y="703.15" text-anchor="middle" font-size="23.8">P wave</text>
<text x="799.4" y="703.15" text-anchor="middle" font-size="23.8">QRS complex</text>
<text x="1110.9" y="703.15" text-anchor="middle" font-size="23.8">T wave</text>
<text x="453.00" y="1255.3" text-anchor="middle" font-size="23.5">0</text>
<text x="516.94" y="1255.3" text-anchor="middle" font-size="23.5">50</text>
<text x="580.88" y="1255.3" text-anchor="middle" font-size="23.5">100</text>
<text x="644.82" y="1255.3" text-anchor="middle" font-size="23.5">150</text>
<text x="708.75" y="1255.3" text-anchor="middle" font-size="23.5">200</text>
<text x="772.69" y="1255.3" text-anchor="middle" font-size="23.5">250</text>
<text x="836.63" y="1255.3" text-anchor="middle" font-size="23.5">300</text>
<text x="900.57" y="1255.3" text-anchor="middle" font-size="23.5">350</text>
<text x="964.51" y="1255.3" text-anchor="middle" font-size="23.5">400</text>
<text x="1028.45" y="1255.3" text-anchor="middle" font-size="23.5">450</text>
<text x="1092.38" y="1255.3" text-anchor="middle" font-size="23.5">500</text>
<text x="1156.32" y="1255.3" text-anchor="middle" font-size="23.5">550</text>
<text x="1220.26" y="1255.3" text-anchor="middle" font-size="23.5">600</text>
<text x="1284.20" y="1255.3" text-anchor="middle" font-size="23.5">650</text>
<text x="868.60" y="1285.9" text-anchor="middle" font-size="23.5">Time (ms)</text>
</g>
<defs><g id="heart"><g fill="none" stroke="#000" stroke-linecap="round" stroke-linejoin="round">
<path stroke-width="7.5" d="M1050,830 C1056,895 1054,940 1046,960 M1065,840 C1071,895 1069,930 1061,950 M1078,860 C1084,900 1082,920 1074,940 M1035,870 C1041,917 1039,945 1031,965 M125,910 L132,929 L140,948 L149,968 L159,989 L170,1011 L182,1033 L195,1056 L209,1079 L223,1104 L238,1129 L253,1155 L268,1181 L275,1194 L291,1220 L307,1246 L324,1273 L341,1299 L358,1325 L375,1350 L392,1374 L409,1398 L426,1419 L441,1439 L457,1457 L463,1465 L477,1479 L492,1493 L507,1506 L522,1517 L538,1528 L553,1538 L569,1546 L586,1554 L602,1560 L619,1565 M140,905 L146,924 L154,942 L163,962 L173,982 L184,1003 L196,1025 L209,1048 L222,1072 L237,1096 L251,1121 L266,1147 L281,1174 L289,1186 L304,1212 L320,1238 L337,1264 L354,1290 L371,1316 L388,1341 L405,1365 L422,1388 L438,1410 L453,1430 L468,1447 L474,1454 L488,1468 L502,1481 L517,1494 L531,1505 L546,1515 L561,1524 L576,1533 L592,1540 L607,1545 M158,910 L164,927 L172,945 L181,965 L192,985 L203,1007 L216,1029 L229,1052 L243,1076 L257,1101 L272,1126 L287,1153 L294,1165 L309,1191 L325,1217 L341,1243 L358,1269 L375,1295 L392,1320 L409,1344 L426,1368 L442,1390 L458,1410 L473,1429 L487,1445 L492,1450 L506,1464 L520,1476 L534,1487 L548,1498 L562,1507 L576,1515 L590,1522 M175,913 L182,930 L191,949 L200,968 L211,989 L223,1010 L236,1033 L249,1056 L263,1080 L278,1105 L293,1132 L308,1158 L315,1170 L330,1196 L346,1221 L363,1247 L379,1273 L396,1299 L413,1323 L430,1347 L446,1370 L462,1391 L478,1410 L492,1427 L496,1432 L510,1446 L523,1458 L536,1470 L550,1480 L563,1489 L577,1498 M193,915 L201,933 L209,951 L219,971 L230,992 L243,1014 L256,1036 L270,1060 L284,1085 L299,1111 L314,1137 L321,1149 L336,1175 L352,1200 L368,1226 L384,1252 L401,1278 L418,1302 L434,1327 L451,1350 L467,1371 L482,1391 L497,1409 L511,1425 L514,1429 L527,1441 L540,1452 L553,1463 L565,1472 M211,918 L219,935 L228,954 L238,974 L250,995 L263,1017 L276,1040 L290,1065 L305,1090 L320,1116 L335,1143 L342,1154 L357,1180 L373,1205 L389,1231 L405,1256 L422,1281 L439,1306 L455,1329 L471,1351 L487,1372 L502,1390 L515,1407 L519,1411 L531,1424 L544,1435 L556,1446 M229,920 L237,938 L247,957 L258,977 L270,998 L283,1021 L296,1045 L311,1069 L326,1095 L341,1122 L348,1134 L363,1159 L378,1184 L394,1210 L410,1235 L427,1260 L443,1285 L460,1309 L476,1331 L492,1352 L506,1372 L520,1389 L534,1404 L536,1407 L548,1418 M590,1571 C680,1584 780,1554 840,1488 M620,1557 C680,1568 780,1538 830,1476 M650,1543 C680,1552 780,1522 820,1464 M680,1529 C680,1536 780,1506 810,1452 M497,629 L542,631 M507,654 L542,649 M487,681 L522,676 M545,585 L550,575 M555,564 L560,554 M565,543 L570,533 M575,522 L580,512 M585,501 L590,491 M595,480 L600,470 M605,459 L610,449"/>
<path stroke-width="9.5" stroke-linecap="butt" d="M118,600 L145,571 M115,629 L155,585 M111,658 L165,600 M108,687 L176,614 M104,716 L186,628 M101,745 L192,646 M97,774 L186,678 M94,803 L180,710 M96,832 L179,742 M104,861 L185,774 M113,890 L191,806 M122,919 L197,838 M130,948 L203,870 M262,452 L322,367 M280,445 L335,368 M298,438 L348,369 M316,431 L361,370 M334,424 L374,371 M1020,1107 L1070,1067 M1005,1157 L1065,1115 M990,1202 L1060,1157 M960,1262 L1040,1217 M950,1297 L1020,1257 M900,1362 L990,1312 M870,1402 L960,1357 M830,1452 L920,1417 M790,1497 L880,1467 M740,1537 L850,1507 M680,1562 L800,1542 M640,1582 L760,1575 M1035,1057 L1072,1027"/>
<path stroke-width="11" d="M1038,505 L1118,492 M761,399 L786,409 M681,500 C684,515 686,530 686,542 M696,535 C698,545 699,555 698,566 M854,716 C838,780 832,830 846,892 M930,935 C945,950 965,962 985,968"/>
<path stroke-width="17" d="M392,468 C384,490 378,500 388,520 C396,540 378,555 386,580 C394,600 376,615 386,640 C394,660 378,675 388,700 C392,720 384,735 378,750 M590,692 C620,684 652,662 670,630 M1043,772 C1065,790 1085,830 1093,862 C1100,890 1100,920 1096,950 M868,917 C885,898 905,890 927,885 M520,710 C545,745 575,775 600,800 M578,785 C572,810 570,830 568,845 M596,690 C620,740 640,800 662,857 M632,728 C660,748 688,765 712,778 M330,822 C338,840 342,860 340,877 M290,852 C305,875 318,905 325,932 M265,862 C250,880 243,900 245,932 M640,1137 C645,1155 642,1170 638,1182 L595,1218 M785,1170 C795,1220 815,1290 842,1342 M845,1047 C860,1100 880,1170 910,1247 M868,1105 C890,1115 915,1125 940,1132 M890,1175 C905,1185 920,1195 935,1202 M690,1322 C683,1350 682,1390 690,1432 M690,1387 C700,1410 715,1440 732,1462 M640,1367 C630,1390 630,1420 640,1447"/>
<path stroke-width="23" d="M330,47 C370,44 410,50 432,62 L447,86 M447,86 C434,60 436,32 462,17 C486,6 502,30 514,58 C546,135 578,222 598,293 M318,148 C360,144 398,148 423,165 C440,176 450,188 462,197 M602,296 C612,220 632,120 664,55 C680,25 700,8 722,8 C748,8 757,30 750,55 C738,110 714,210 701,287 M714,280 C734,220 780,145 840,100 C880,72 920,58 950,56 M935,128 C905,132 875,150 850,185 C825,220 808,250 796,287 M814,257 C860,280 920,325 962,385 M330,47 C300,45 290,75 291,104 C292,135 305,150 320,148 M948,56 C975,58 986,85 983,110 C980,145 966,165 948,163 C940,150 938,140 935,128 M436,208 C460,190 500,185 525,210 C548,240 540,300 515,345 C500,368 478,378 455,380 C430,392 408,415 400,445 M228,478 C260,458 320,437 362,435 C380,436 392,448 392,468 M392,752 C440,735 500,715 540,700 C560,693 575,688 592,682 M578,505 C600,465 650,430 700,425 C750,420 780,442 812,440 C870,432 920,405 962,385 C1030,358 1090,335 1135,321 C1162,314 1178,332 1170,352 C1165,368 1135,385 1095,401 M1160,372 C1180,405 1188,450 1170,488 M1150,490 C1200,482 1224,495 1224,518 C1222,540 1185,548 1134,555 M1165,560 C1195,570 1216,592 1216,622 C1213,650 1195,662 1180,657 C1165,652 1150,640 1138,626 M1150,645 C1165,670 1170,695 1152,708 C1128,720 1100,690 1058,626 M1075,778 C1060,780 1050,778 1043,767 C1035,740 1015,712 988,711 C960,713 945,735 942,757 C935,780 905,790 885,803 C866,818 860,850 861,890 C862,930 890,965 930,990 C960,1008 1000,1002 1040,990 C1065,982 1085,975 1097,968 M665,1340 C640,1365 615,1385 600,1402 M818,1050 C770,1070 720,1080 690,1095 C650,1115 610,1150 570,1178"/>
<path stroke-width="28" d="M228,478 C170,530 110,610 88,700 C70,770 72,850 95,920 C120,1000 180,1090 240,1197 C300,1300 380,1420 440,1487 C500,1550 570,1595 650,1603 C730,1608 790,1580 830,1547 C900,1490 960,1400 1000,1337 C1040,1270 1075,1180 1090,1087 C1097,1040 1095,1010 1095,975 M436,208 C390,240 330,300 285,360 C255,400 235,440 228,478 M1205,508 C1170,496 1120,494 1060,503 C1020,510 990,520 960,530 C900,550 865,580 840,625 C815,680 800,760 810,840 C816,890 835,930 855,952 M1058,626 C1080,690 1096,760 1106,830 C1114,880 1120,915 1110,945 C1106,960 1100,970 1095,980 M400,445 C397,520 410,600 404,700 C402,720 398,735 390,750 M388,750 C350,790 300,812 250,838 C215,857 170,890 130,937 M855,952 C845,990 835,1020 828,1045 C810,1100 790,1150 770,1180 C740,1240 700,1300 665,1340"/>
<path stroke-width="34" d="M100,935 C125,1005 180,1090 240,1197 C300,1300 380,1420 440,1487 C490,1540 540,1575 600,1595"/>
<path fill="#000" stroke-width="4" d="M1052,618 C1075,660 1090,720 1100,775 C1080,740 1068,690 1052,618 Z M650,450 C600,465 552,530 556,590 C558,640 575,675 590,684 C625,670 655,630 663,580 C670,530 662,480 650,450 Z M640,447 C690,412 770,412 835,440 C780,472 700,472 640,447 Z"/>
<ellipse cx="331" cy="100" rx="13" ry="33" transform="rotate(4 331 100)" stroke-width="9"/>
<ellipse cx="954" cy="110" rx="12" ry="31" transform="rotate(-3 954 110)" stroke-width="9"/>
<ellipse cx="481" cy="300" rx="33" ry="67" transform="rotate(20 481 300)" stroke-width="8"/>
<ellipse cx="471" cy="292" rx="29" ry="61" transform="rotate(20 471 292)" fill="#000" stroke-width="6"/>
<circle cx="383" cy="492" r="13" fill="#000" stroke="none"/>
<circle cx="383" cy="545" r="13" fill="#000" stroke="none"/>
<circle cx="383" cy="600" r="13" fill="#000" stroke="none"/>
<circle cx="383" cy="655" r="13" fill="#000" stroke="none"/>
<circle cx="383" cy="710" r="13" fill="#000" stroke="none"/>
</g></g></defs>
<use href="#heart" transform="translate(85,0) scale(0.135746)"/>
<use href="#heart" transform="translate(85,845) scale(0.135746)"/>
<g font-family="'Liberation Sans',Arial,sans-serif" font-weight="700" font-size="44.6" fill="#000">
<clipPath id="nofoot"><path clip-rule="evenodd" d="M-5,0H60V60H-5Z M29,45.7H38.9V52H29Z M45.1,45.7H54V52H45.1Z"/></clipPath>
<text x="-1.3" y="51" clip-path="url(#nofoot)">V1</text>
<text x="228.8" y="1090.3" font-size="43.6">V4</text>
</g>
<g stroke="#000" stroke-width="3.6" stroke-dasharray="7,6.3" stroke-linecap="round" fill="none">
<path d="M51.8,38 L112,80.4"/>
<path d="M226.3,1076.5 L198.2,1008.5"/>
</g>
<path d="M123.2,89.9 L118.3,78.9 L110.6,88.7 Z" fill="#000" stroke="#000" stroke-width="0.6" stroke-linejoin="round"/>
<path d="M194.4,996.4 L192.8,1005.2 L202.6,1003 Z" fill="#000" stroke="#000" stroke-width="0.6" stroke-linejoin="round"/>
<g font-family="'Liberation Serif','DejaVu Serif',serif" font-style="italic" font-size="41.5" fill="#262626">
<text x="6.5" y="295.2" textLength="47.5" lengthAdjust="spacing">V1</text>
<text x="80.5" y="295.2" textLength="127.5" lengthAdjust="spacing">focuses</text>
<text x="240.0" y="295.2" textLength="44.5" lengthAdjust="spacing">on</text>
<text x="1.0" y="344.2" textLength="54.0" lengthAdjust="spacing">the</text>
<text x="97.5" y="344.2" textLength="185.0" lengthAdjust="spacing">right-sided</text>
<text x="2.5" y="393.2" textLength="156.0" lengthAdjust="spacing">electrical</text>
<text x="230.5" y="393.2" textLength="52.5" lengthAdjust="spacing">ac-</text>
<text x="1.0" y="442.2" textLength="91.0" lengthAdjust="spacing">tivity</text>
<text x="145.0" y="442.2" textLength="31.0" lengthAdjust="spacing">of</text>
<text x="230.5" y="442.2" textLength="53.0" lengthAdjust="spacing">the</text>
<text x="3.0" y="491.2" textLength="119.5" lengthAdjust="spacing">atrium</text>
<text x="5.5" y="1161.8" textLength="46.5" lengthAdjust="spacing">V4</text>
<text x="80.5" y="1161.8" textLength="127.5" lengthAdjust="spacing">focuses</text>
<text x="240.0" y="1161.8" textLength="44.5" lengthAdjust="spacing">on</text>
<text x="1.0" y="1210.8" textLength="54.0" lengthAdjust="spacing">the</text>
<text x="125.0" y="1210.8" textLength="157.5" lengthAdjust="spacing">left-sided</text>
<text x="3.5" y="1259.8" textLength="190.5" lengthAdjust="spacing">ventricular</text>
<text x="2.5" y="1308.8" textLength="128.0" lengthAdjust="spacing">activity</text>
</g>
</svg></body></html>
